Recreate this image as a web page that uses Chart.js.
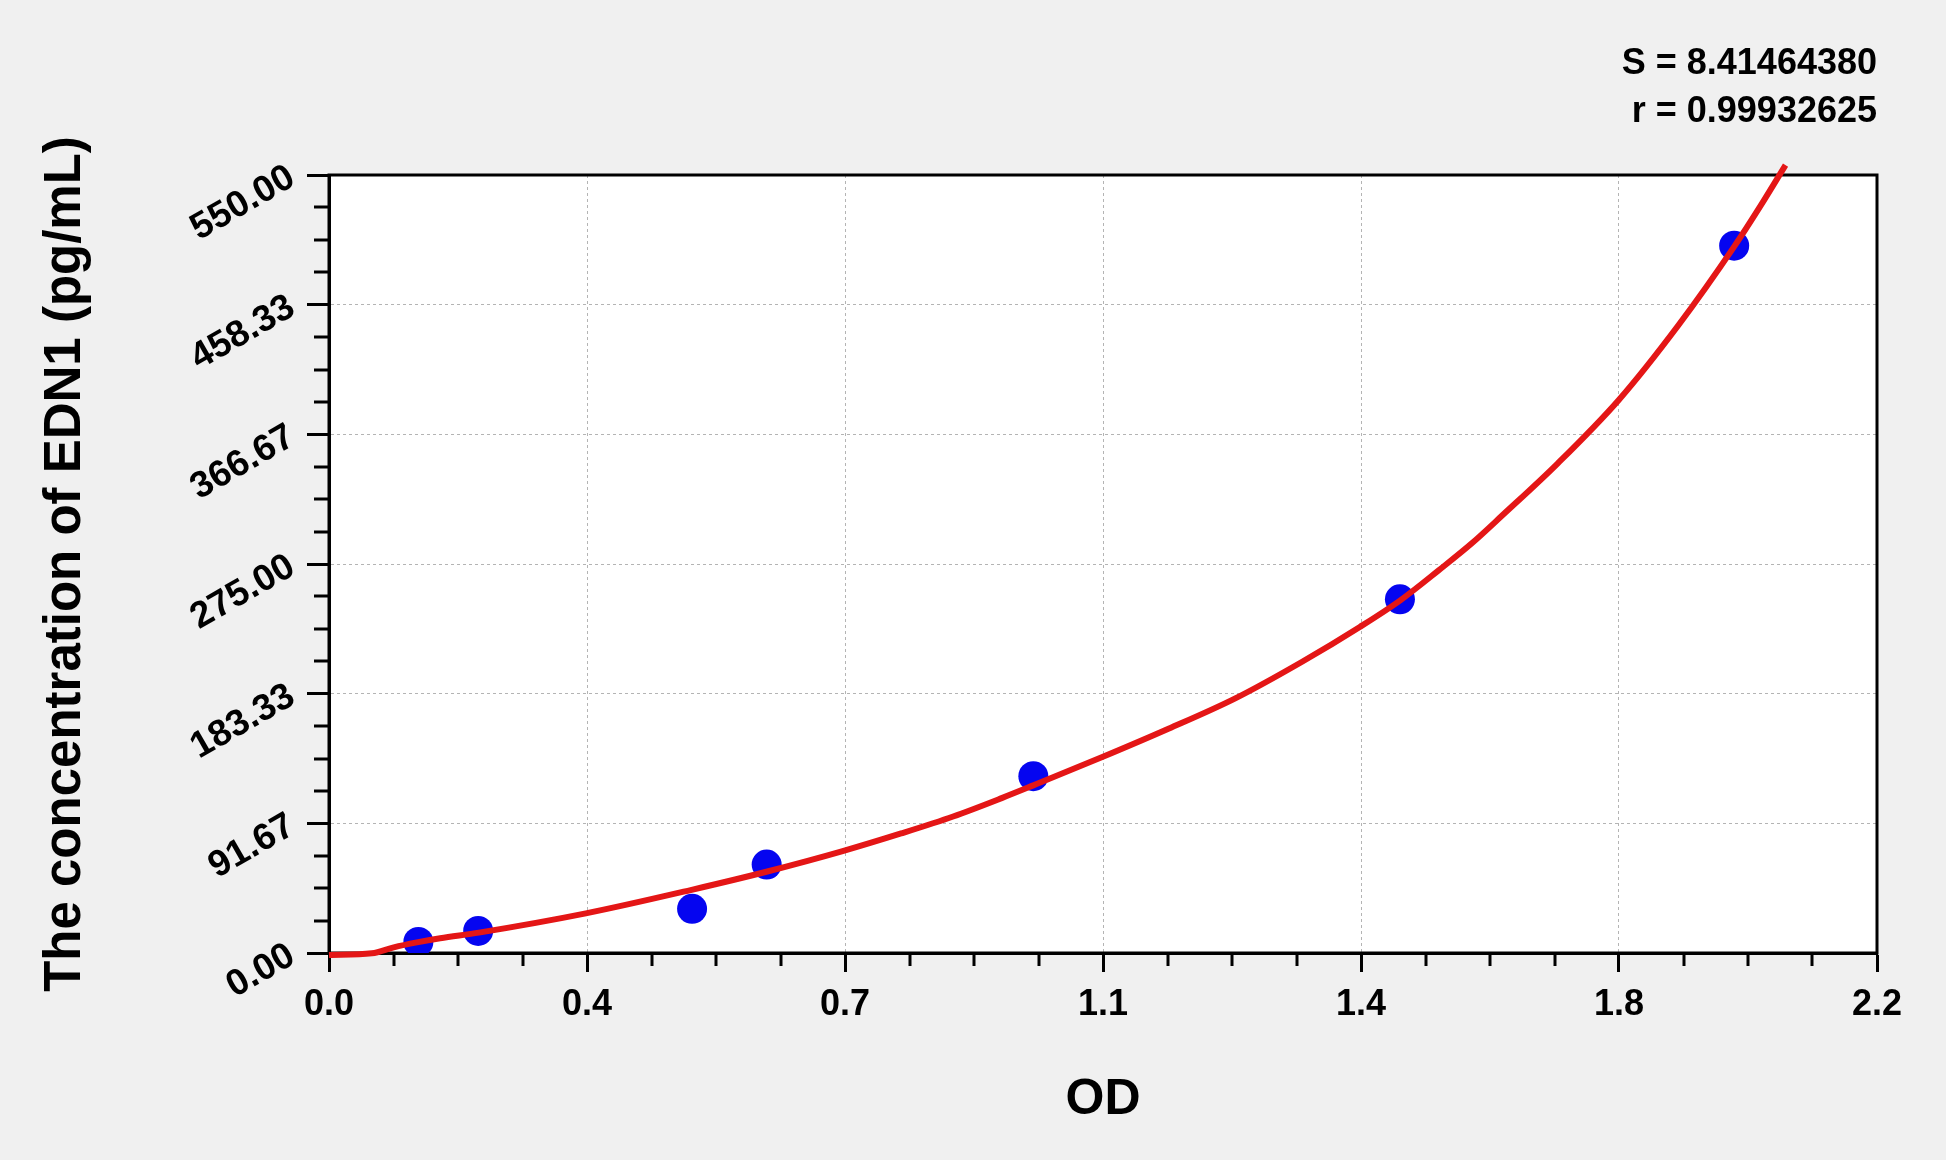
<!DOCTYPE html>
<html>
<head>
<meta charset="utf-8">
<title>EDN1 standard curve</title>
<script src="https://cdn.jsdelivr.net/npm/chart.js@4.4.1/dist/chart.umd.min.js"></script>
<style>
    html, body { margin: 0; padding: 0; background: #f0f0f0; }
    #curve-chart { display: block; }
</style>
</head>
<body>
<canvas id="curve-chart" width="1946" height="1160"></canvas>
<script>
/*********************************************************************/
/******************************  Data  *******************************/
/*********************************************************************/
// standards (OD vs concentration in pg/mL)
var standardOD = [0.127, 0.212, 0.516, 0.622, 1.001, 1.522, 1.997];
var standardConc = [7.81, 15.63, 31.25, 62.5, 125, 250, 500];

// fitted curve
var curveOD = [0, 0.061, 0.092, 0.125, 0.158, 0.213, 0.365, 0.514, 0.623, 0.730,
               0.813, 0.887, 0.956, 1.001, 1.099, 1.193, 1.288, 1.383, 1.465, 1.523,
               1.577, 1.625, 1.668, 1.746, 1.833, 1.918, 1.997, 2.038, 2.070];
var curveConc = [-1.4, -0.2, 4.0, 7.5, 10.4, 14.4, 28.0, 44.5, 57.6, 72.0,
                 84.5, 96.5, 109.5, 118.5, 138.5, 158.5, 180.0, 205.9, 230.5, 249.5,
                 270.5, 290.0, 309.6, 346.0, 391.0, 444.0, 499.4, 531.0, 557.0];

var xTickLabels = ['0.0', '0.4', '0.7', '1.1', '1.4', '1.8', '2.2'];
var yTickLabels = ['0.00', '91.67', '183.33', '275.00', '366.67', '458.33', '550.00'];
var fitStats = ['S = 8.41464380', 'r = 0.99932625'];

var xMax = 2.2;
var yMax = 550;
var minorSteps = 4;
var fontFamily = '"Liberation Sans", Arial, sans-serif';


/****************************  Plugins  ******************************/
// white plot area, black frame and the minor tick marks
var plotFrame = {
    id: 'plotFrame',
    beforeDraw: function(chart) {
        var a = chart.chartArea, ctx = chart.ctx;
        ctx.save();
        ctx.fillStyle = '#ffffff';
        ctx.fillRect(a.left, a.top, a.right - a.left, a.bottom - a.top);
        ctx.restore();
    },
    beforeDatasetsDraw: function(chart) {
        var a = chart.chartArea, ctx = chart.ctx;
        var xs = chart.scales.x, ys = chart.scales.y;
        var nx = (xTickLabels.length - 1) * minorSteps;
        var ny = (yTickLabels.length - 1) * minorSteps;
        ctx.save();
        ctx.strokeStyle = '#000';
        ctx.lineWidth = 3;
        ctx.strokeRect(a.left, a.top, a.right - a.left, a.bottom - a.top);
        ctx.beginPath();
        for (var i = 1; i < nx; i++) {
            if (i % minorSteps == 0) continue;
            var px = Math.round(xs.getPixelForValue(i * xMax / nx));
            ctx.moveTo(px, a.bottom);
            ctx.lineTo(px, a.bottom + 13);
        }
        for (var j = 1; j < ny; j++) {
            if (j % minorSteps == 0) continue;
            var py = Math.round(ys.getPixelForValue(j * yMax / ny));
            ctx.moveTo(a.left, py);
            ctx.lineTo(a.left - 15, py);
        }
        ctx.stroke();
        ctx.restore();
    }
};

function gridColor(ctx) {
    var last = ctx.chart.scales[ctx.scale.id].ticks.length - 1;
    return (ctx.index == 0 || ctx.index == last) ? 'rgba(0,0,0,0)' : '#b4b4b4';
}


/*****************************  Chart  *******************************/
var standards = standardOD.map(function(od, i) { return {x: od, y: standardConc[i]}; });
var curve = curveOD.map(function(od, i) { return {x: od, y: curveConc[i]}; });

var lineChart = new Chart(document.getElementById('curve-chart'), {
    type: 'scatter',
    data: {
        datasets: [{
            label: 'Fit',
            data: curve,
            showLine: true,
            borderColor: 'rgb(228, 22, 22)',
            borderWidth: 6,
            pointRadius: 0,
            cubicInterpolationMode: 'monotone',
            clip: false,
            order: 0
        }, {
            label: 'Standards',
            data: standards,
            backgroundColor: '#0505f0',
            borderWidth: 0,
            pointRadius: 15,
            order: 1
        }]
    },
    options: {
        responsive: false,
        animation: false,
        layout: { padding: { left: 0, right: 69, top: 0, bottom: 0 } },
        plugins: {
            legend: { display: false },
            tooltip: { enabled: false },
            title: {
                display: true,
                align: 'end',
                text: fitStats,
                color: '#000',
                font: { family: fontFamily, size: 36, weight: 'bold', lineHeight: '48px' },
                padding: { top: 40, bottom: 39 }
            }
        },
        scales: {
            x: {
                type: 'linear',
                min: 0,
                max: xMax,
                afterBuildTicks: function(scale) {
                    scale.ticks = xTickLabels.map(function(l, i) {
                        return {value: i * xMax / (xTickLabels.length - 1)};
                    });
                },
                afterFit: function(scale) { scale.height = 207; },
                ticks: {
                    autoSkip: false,
                    maxRotation: 0,
                    padding: 11,
                    color: '#000',
                    font: { family: fontFamily, size: 36, weight: 'bold' },
                    callback: function(value, index) { return xTickLabels[index]; }
                },
                grid: {
                    color: gridColor,
                    lineWidth: 1,
                    tickColor: '#000',
                    tickWidth: 3,
                    tickLength: 19,
                    tickBorderDash: []
                },
                border: { color: '#000', width: 3, dash: [3, 3] },
                title: {
                    display: true,
                    text: 'OD',
                    color: '#000',
                    font: { family: fontFamily, size: 50, weight: 'bold' },
                    padding: { top: 0, bottom: 30 }
                }
            },
            y: {
                type: 'linear',
                min: 0,
                max: yMax,
                afterBuildTicks: function(scale) {
                    scale.ticks = yTickLabels.map(function(l, i) {
                        return {value: i * yMax / (yTickLabels.length - 1)};
                    });
                },
                afterFit: function(scale) { scale.width = 329; },
                ticks: {
                    autoSkip: false,
                    minRotation: 30,
                    maxRotation: 30,
                    padding: 15,
                    color: '#000',
                    font: { family: fontFamily, size: 37, weight: 'bold' },
                    callback: function(value, index) { return yTickLabels[index]; }
                },
                grid: {
                    color: gridColor,
                    lineWidth: 1,
                    tickColor: '#000',
                    tickWidth: 3,
                    tickLength: 22,
                    tickBorderDash: []
                },
                border: { color: '#000', width: 3, dash: [3, 3] },
                title: {
                    display: true,
                    text: 'The concentration of EDN1 (pg/mL)',
                    color: '#000',
                    font: { family: fontFamily, size: 51, weight: 'bold' },
                    padding: { top: 35, bottom: 0 }
                }
            }
        }
    },
    plugins: [plotFrame]
});
</script>
</body>
</html>
